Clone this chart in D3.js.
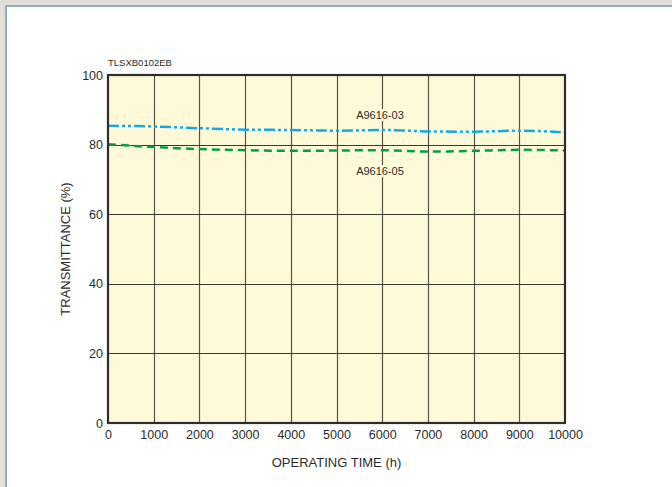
<!DOCTYPE html>
<html>
<head>
<meta charset="utf-8">
<script src="https://cdn.jsdelivr.net/npm/d3@7"></script>
<style>
  html, body { margin: 0; padding: 0; background: #e2dfdb; }
  svg { display: block; }
  text { font-family: "Liberation Sans", Arial, sans-serif; fill: #2b2b2b; }
</style>
</head>
<body>
<svg id="chart" width="672" height="487"></svg>
<script>
const svg = d3.select("svg#chart");
const width = +svg.attr("width");
const height = +svg.attr("height");

// data
const hours = [0, 1000, 2000, 3000, 4000, 5000, 6000, 7000, 8000, 9000, 10000];
const a961603 = [85.4, 85.2, 84.7, 84.3, 84.2, 84.0, 84.2, 83.8, 83.7, 84.0, 83.5];
const a961605 = [80.1, 79.3, 78.7, 78.4, 78.2, 78.3, 78.4, 78.0, 78.2, 78.5, 78.3];
const xTicks = [0, 1000, 2000, 3000, 4000, 5000, 6000, 7000, 8000, 9000, 10000];
const yTicks = [0, 20, 40, 60, 80, 100];

// page frame
svg.append("rect")
    .attr("x", 6).attr("y", 6)
    .attr("width", width).attr("height", height)
    .attr("fill", "#fff")
    .attr("stroke", "#8fb1bf")
    .attr("stroke-width", 2);

const pLeft = 108, pRight = 565, pTop = 75, pBottom = 423;

const x = d3.scaleLinear().domain([0, 10000]).range([pLeft, pRight]);
const y = d3.scaleLinear().domain([0, 100]).range([pBottom, pTop]);

const g = svg.append("g");

g.append("rect")
    .attr("x", pLeft).attr("y", pTop)
    .attr("width", pRight - pLeft).attr("height", pBottom - pTop)
    .attr("fill", "#fef9d7");

// grid
g.append("g")
    .selectAll("line")
    .data(xTicks.slice(1, -1))
    .enter().append("line")
      .attr("x1", d => Math.round(x(d)) + 0.5)
      .attr("x2", d => Math.round(x(d)) + 0.5)
      .attr("y1", pTop).attr("y2", pBottom)
      .attr("stroke", "#5a554a")
      .attr("stroke-width", 1.2);

g.append("g")
    .selectAll("line")
    .data(yTicks.slice(1, -1))
    .enter().append("line")
      .attr("x1", pLeft).attr("x2", pRight)
      .attr("y1", d => Math.round(y(d)) + 0.5)
      .attr("y2", d => Math.round(y(d)) + 0.5)
      .attr("stroke", "#3a3a36")
      .attr("stroke-width", 1);

// axes (labels only, frame drawn separately)
const xAxis = d3.axisBottom(x).tickValues(xTicks).tickFormat(d3.format("d"))
    .tickSize(0).tickPadding(7);
g.append("g")
    .attr("transform", "translate(0," + pBottom + ")")
    .call(xAxis)
    .call(s => s.select(".domain").remove())
    .selectAll("text")
      .style("font-size", "12.5px")
      .style("font-family", "Liberation Sans, Arial, sans-serif")
      .attr("fill", "#2b2b2b");

const yAxis = d3.axisLeft(y).tickValues(yTicks).tickSize(0).tickPadding(5);
g.append("g")
    .attr("transform", "translate(" + pLeft + ",0)")
    .call(yAxis)
    .call(s => s.select(".domain").remove())
    .selectAll("text")
      .style("font-size", "12.5px")
      .style("font-family", "Liberation Sans, Arial, sans-serif")
      .attr("fill", "#2b2b2b");

// series
const line = d3.line()
    .x((d, i) => x(hours[i]))
    .y(d => y(d))
    .curve(d3.curveMonotoneX);

g.append("path")
    .datum(a961603)
    .attr("d", line)
    .attr("fill", "none")
    .attr("stroke", "#14a9e3")
    .attr("stroke-width", 2.5)
    .attr("stroke-dasharray", "11,3,3,3,3,3");

g.append("path")
    .datum(a961605)
    .attr("d", line)
    .attr("fill", "none")
    .attr("stroke", "#00a04a")
    .attr("stroke-width", 2.5)
    .attr("stroke-dasharray", "8,5");

// series labels with cream background
function label(txt, cx, cy) {
  const t = g.append("text")
      .attr("x", cx).attr("y", cy)
      .attr("text-anchor", "middle")
      .style("font-size", "11px")
      .text(txt);
  const b = t.node().getBBox();
  g.insert("rect", function() { return t.node(); })
      .attr("x", b.x - 2).attr("y", b.y)
      .attr("width", b.width + 4).attr("height", b.height)
      .attr("fill", "#fef9d7");
}
label("A9616-03", 380, 119);
label("A9616-05", 380, 175);

// plot frame
g.append("rect")
    .attr("x", pLeft).attr("y", pTop)
    .attr("width", pRight - pLeft).attr("height", pBottom - pTop)
    .attr("fill", "none")
    .attr("stroke", "#2e2e2e")
    .attr("stroke-width", 2.2);

// titles
svg.append("text")
    .attr("x", pLeft).attr("y", 66)
    .style("font-size", "9.5px")
    .text("TLSXB0102EB");

svg.append("text")
    .attr("x", (pLeft + pRight) / 2).attr("y", 467)
    .attr("text-anchor", "middle")
    .style("font-size", "13px")
    .text("OPERATING TIME (h)");

svg.append("text")
    .attr("transform", "translate(70," + ((pTop + pBottom) / 2) + ") rotate(-90)")
    .attr("text-anchor", "middle")
    .style("font-size", "13px")
    .text("TRANSMITTANCE (%)");
</script>
</body>
</html>
